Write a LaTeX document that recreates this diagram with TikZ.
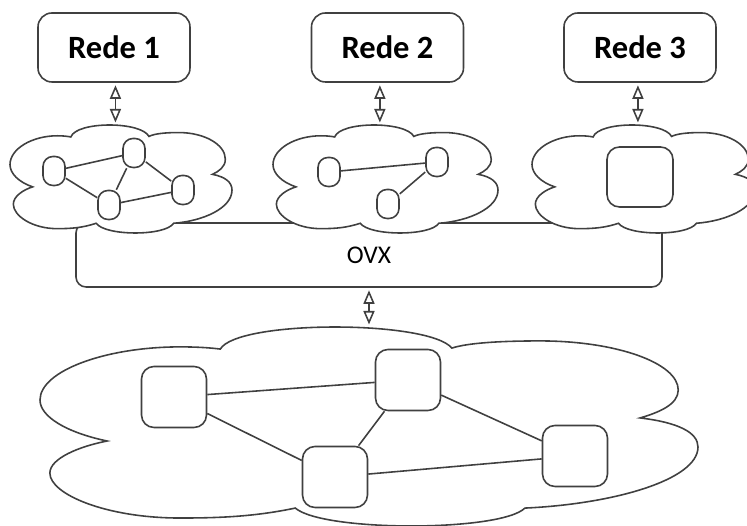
\documentclass[tikz,border=0pt]{standalone}
\usepackage{fontspec}
\setmainfont{Carlito}
\usetikzlibrary{arrows.meta,positioning}
\definecolor{contorno}{rgb}{0.25,0.25,0.25}
\tikzset{
  linha/.style={draw=contorno, line width=0.9pt},
  rede/.style={linha, rounded corners=0.28cm, minimum width=3.04cm, minimum height=1.38cm, font=\fontsize{18.5}{22}\selectfont\bfseries},
  sw/.style={linha, rounded corners=0.2cm, minimum width=0.44cm, minimum height=0.58cm, inner sep=0pt},
  swg/.style={linha, rounded corners=0.25cm, minimum width=1.3cm, minimum height=1.22cm, inner sep=0pt},
  seta/.style={linha, {Triangle[open,length=0.27cm,width=0.22cm]}-{Triangle[open,length=0.27cm,width=0.22cm]}, shorten <=0.05cm, shorten >=0.05cm},
  nuvem/.pic={
    \draw[linha, fill=white] (0.274,0.889) .. controls (0.30,1.036) and (0.59,1.036) .. (0.626,0.894)
      .. controls (0.65,0.92) and (0.70,0.93) .. (0.76,0.93)
      .. controls (0.876,0.93) and (0.97,0.819) .. (0.97,0.683)
      .. controls (0.97,0.61) and (0.94,0.57) .. (0.912,0.543)
      .. controls (0.97,0.52) and (1.0,0.47) .. (1.0,0.397)
      .. controls (1.0,0.23) and (0.87,0.11) .. (0.737,0.09)
      .. controls (0.70,-0.03) and (0.43,-0.03) .. (0.388,0.09)
      .. controls (0.33,0.05) and (0.28,0.04) .. (0.213,0.04)
      .. controls (0.10,0.04) and (0.015,0.16) .. (0.015,0.266)
      .. controls (0.015,0.34) and (0.06,0.40) .. (0.102,0.427)
      .. controls (0.04,0.47) and (0,0.55) .. (0,0.633)
      .. controls (0,0.78) and (0.10,0.90) .. (0.213,0.90)
      .. controls (0.24,0.90) and (0.26,0.895) .. (0.274,0.889) -- cycle;
    \coordinate (-topo) at (0.475,1);
  }
}

\begin{document}
\begin{tikzpicture}
      \clip (0,0) rectangle (14.94,10.52);

      \node[rede] (rede1) at (2.28,9.57) {Rede 1};
      \node[rede] (rede2) at (7.75,9.57) {Rede 2};
      \node[rede] (rede3) at (12.8,9.57) {Rede 3};

      \node[linha, rounded corners=0.2cm, minimum width=11.72cm, minimum height=1.28cm, font=\fontsize{14.5}{17}\selectfont] (ovx) at (7.38,5.42) {OVX};

      % redes virtuais
      \pic[xscale=4.44, yscale=2.16] (c1) at (0.2,5.86) {nuvem};
      \pic[xscale=4.5, yscale=2.16] (c2) at (5.46,5.86) {nuvem};
      \pic[xscale=4.46, yscale=2.16] (c3) at (10.64,5.86) {nuvem};
      \pic[xscale=13.16, yscale=3.98] (c0) at (0.8,0) {nuvem};

      \draw[seta] (rede1.south -| c1-topo) -- (c1-topo);
      \draw[seta] (rede2.south -| c2-topo) -- (c2-topo);
      \draw[seta] (rede3.south -| c3-topo) -- (c3-topo);
      \draw[seta] (ovx.south) -- (ovx.south |- c0-topo);

      \node[sw] (a) at (1.08,7.1) {};
      \node[sw] (b) at (2.68,7.46) {};
      \node[sw] (c) at (3.66,6.72) {};
      \node[sw] (d) at (2.18,6.42) {};
      \draw[linha] (a) -- (b);
      \draw[linha] (a) -- (d);
      \draw[linha] (b) -- (d);
      \draw[linha] (b) -- (c);
      \draw[linha] (d) -- (c);

      \node[sw] (e) at (6.58,7.08) {};
      \node[sw] (f) at (8.74,7.28) {};
      \node[sw] (g) at (7.76,6.44) {};
      \draw[linha] (e) -- (f);
      \draw[linha] (f) -- (g);

      \node[swg, minimum width=1.32cm, minimum height=1.2cm] (h) at (12.8,6.98) {};

      % rede fisica
      \node[swg] (p) at (3.48,2.58) {};
      \node[swg] (q) at (8.16,2.92) {};
      \node[swg] (r) at (6.7,0.98) {};
      \node[swg] (s) at (11.5,1.4) {};
      \draw[linha] (p) -- (q);
      \draw[linha] (p) -- (r);
      \draw[linha] (q) -- (r);
      \draw[linha] (q) -- (s);
      \draw[linha] (r) -- (s);
\end{tikzpicture}
\end{document}
